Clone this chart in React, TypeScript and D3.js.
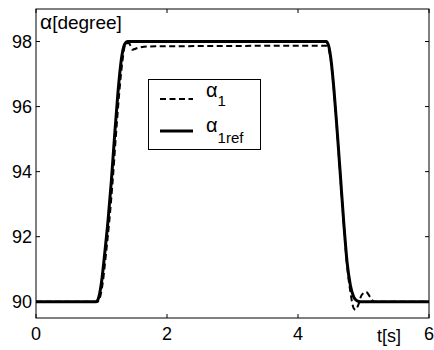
import { useEffect, useRef } from "react"
import * as d3 from "d3"

// reference trajectory alpha_1ref
const tRef = [0, 0.92, 0.96, 1.0, 1.05, 1.1, 1.15, 1.2, 1.25, 1.3, 1.35, 1.4, 1.45, 4.43, 4.47, 4.5, 4.55, 4.6, 4.65, 4.7, 4.75, 4.8, 4.85, 4.9, 4.95, 6]
const alphaRef = [90, 90, 90.15, 90.6, 91.5, 92.5, 93.7, 95.1, 96.4, 97.4, 97.9, 98, 98, 98, 97.85, 97.5, 96.5, 95.2, 93.8, 92.4, 91.2, 90.5, 90.15, 90.03, 90, 90]

// measured alpha_1
const tMeas = [0, 0.94, 0.98, 1.02, 1.07, 1.12, 1.17, 1.22, 1.27, 1.32, 1.37, 1.42, 1.47, 1.55, 1.7, 4.43, 4.47, 4.5, 4.55, 4.6, 4.65, 4.7, 4.75, 4.8, 4.85, 4.88, 4.92, 4.97, 5.04, 5.1, 5.16, 6]
const alphaMeas = [90, 90, 90.15, 90.6, 91.5, 92.5, 93.7, 95.1, 96.4, 97.4, 97.95, 97.95, 97.75, 97.8, 97.85, 97.87, 97.75, 97.45, 96.45, 95.15, 93.75, 92.35, 91.1, 90.3, 89.8, 89.75, 89.9, 90.2, 90.3, 90.15, 90, 90]

const xTicks = [0, 2, 4, 6]
const yTicks = [90, 92, 94, 96, 98]

const FONT = "'Liberation Sans', Arial, Helvetica, sans-serif"

export default function App() {
  const svgRef = useRef<SVGSVGElement>(null)

  useEffect(() => {
    if (!svgRef.current) return
    const width = 434
    const height = 350
    const left = 36
    const right = 429
    const top = 9
    const bottom = 318

    const svg = d3.select(svgRef.current).attr("width", width).attr("height", height)
    svg.selectAll("*").remove()

    const x = d3.scaleLinear().domain([0, 6]).range([left, right])
    const y = d3.scaleLinear().domain([89.5, 99]).range([bottom, top])

    svg.append("rect").attr("width", width).attr("height", height).attr("fill", "white")

    const line = d3
      .line<[number, number]>()
      .x((d) => x(d[0]))
      .y((d) => y(d[1]))
      .curve(d3.curveMonotoneX)

    const refPts = tRef.map((t, i) => [t, alphaRef[i]] as [number, number])
    const measPts = tMeas.map((t, i) => [t, alphaMeas[i]] as [number, number])

    svg
      .append("path")
      .attr("d", line(refPts))
      .attr("fill", "none")
      .attr("stroke", "black")
      .attr("stroke-width", 3)

    svg
      .append("path")
      .attr("d", line(measPts))
      .attr("fill", "none")
      .attr("stroke", "black")
      .attr("stroke-width", 2)
      .attr("stroke-dasharray", "6,3.5")

    // axes box
    svg
      .append("rect")
      .attr("x", left)
      .attr("y", top)
      .attr("width", right - left)
      .attr("height", bottom - top)
      .attr("fill", "none")
      .attr("stroke", "black")
      .attr("stroke-width", 1)

    const tk = 4
    xTicks.forEach((v) => {
      svg.append("line").attr("x1", x(v)).attr("x2", x(v)).attr("y1", bottom).attr("y2", bottom - tk).attr("stroke", "black")
      svg.append("line").attr("x1", x(v)).attr("x2", x(v)).attr("y1", top).attr("y2", top + tk).attr("stroke", "black")
      svg
        .append("text")
        .attr("x", x(v))
        .attr("y", 340)
        .attr("text-anchor", "middle")
        .attr("font-family", FONT)
        .attr("font-size", 18)
        .text(v)
    })
    yTicks.forEach((v) => {
      svg.append("line").attr("x1", left).attr("x2", left + tk).attr("y1", y(v)).attr("y2", y(v)).attr("stroke", "black")
      svg.append("line").attr("x1", right).attr("x2", right - tk).attr("y1", y(v)).attr("y2", y(v)).attr("stroke", "black")
      svg
        .append("text")
        .attr("x", 32)
        .attr("y", y(v))
        .attr("dy", "0.35em")
        .attr("text-anchor", "end")
        .attr("font-family", FONT)
        .attr("font-size", 18)
        .text(v)
    })

    const yl = svg.append("text").attr("x", 40).attr("y", 29).attr("font-family", FONT).attr("font-size", 19)
    yl.append("tspan").attr("font-size", 21).text("α")
    yl.append("tspan").text("[degree]")

    svg
      .append("text")
      .attr("x", 377)
      .attr("y", 342)
      .attr("font-family", FONT)
      .attr("font-size", 18)
      .text("t[s]")

    // legend
    const lg = svg.append("g")
    lg.append("rect")
      .attr("x", 148.5)
      .attr("y", 79.5)
      .attr("width", 112)
      .attr("height", 70)
      .attr("fill", "white")
      .attr("stroke", "black")
      .attr("stroke-width", 1)

    lg.append("line").attr("x1", 160).attr("x2", 193).attr("y1", 99).attr("y2", 99)
      .attr("stroke", "black").attr("stroke-width", 2).attr("stroke-dasharray", "6,3.5")
    lg.append("line").attr("x1", 160).attr("x2", 193).attr("y1", 131).attr("y2", 131)
      .attr("stroke", "black").attr("stroke-width", 3)

    const t1 = lg.append("text").attr("x", 206).attr("y", 97).attr("font-family", FONT).attr("font-size", 20)
    t1.append("tspan").text("α")
    t1.append("tspan").attr("dy", 9).attr("font-size", 15).text("1")

    const t2 = lg.append("text").attr("x", 206).attr("y", 132).attr("font-family", FONT).attr("font-size", 20)
    t2.append("tspan").text("α")
    t2.append("tspan").attr("dy", 11).attr("font-size", 15).text("1ref")
  }, [])

  return <svg ref={svgRef} style={{ position: "absolute", left: 0, top: 0 }} />
}
